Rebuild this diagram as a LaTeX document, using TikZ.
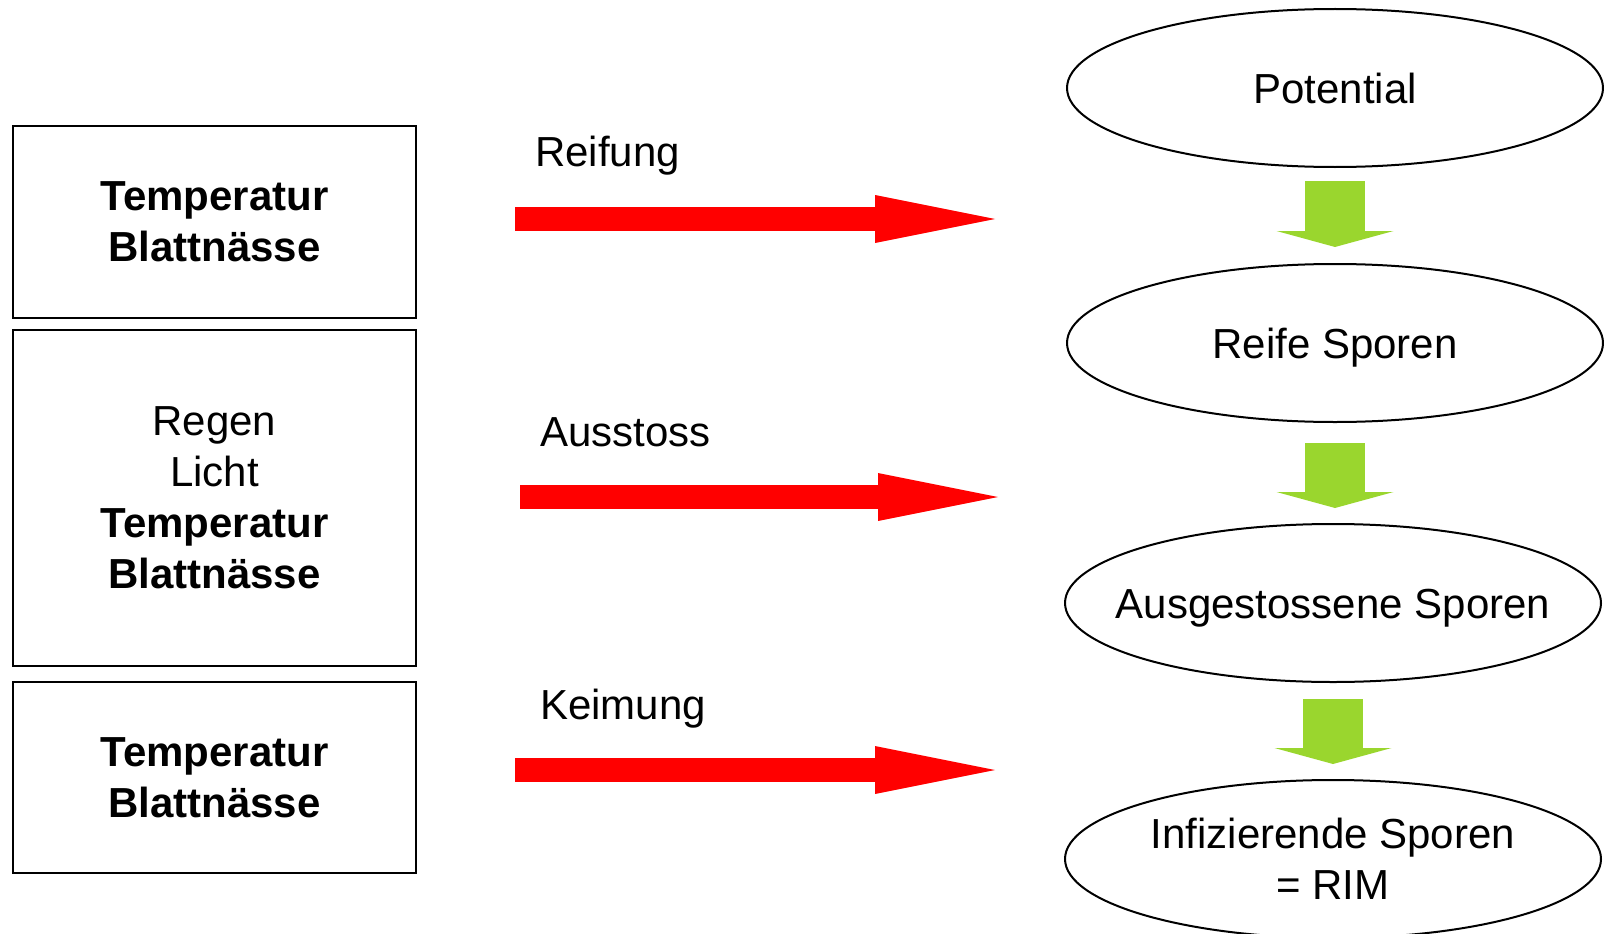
\documentclass[tikz,border=0pt]{standalone}
\usepackage{fontspec}
\setmainfont{Liberation Sans}
\usetikzlibrary{shapes.geometric,arrows.meta}
\definecolor{arrowgreen}{RGB}{154,214,46}
\newcommand{\zw}[1]{\makebox[0pt]{#1}}
\begin{document}
\begin{tikzpicture}[x=1pt,y=-1pt,
  every node/.style={font=\fontsize{42}{51}\selectfont, inner sep=0pt},
  box/.style={draw, line width=2.5pt, minimum width=403pt, align=center},
  oval/.style={draw, ellipse, line width=2pt, minimum width=536pt, minimum height=158pt, align=center},
  oneline/.style={text height=30pt, text depth=0pt},
  redarrow/.style={draw=red, line width=24pt, -{Triangle[length=120pt,width=48pt,line width=0pt]}},
  greenarrow/.style={draw=arrowgreen, line width=60pt, -{Triangle[length=16pt,width=117pt,line width=0pt]}},
  lbl/.style={anchor=west, oneline}]
\useasboundingbox (0,0) rectangle (1604,934);
% left boxes
\node[box, minimum height=192pt] (b1) at (214.5,222) {\textbf{Temperatur}\\\textbf{Blattnässe}};
\node[box, minimum height=336pt] (b2) at (214.5,498) {Regen\\Licht\\\textbf{Temperatur}\\\textbf{Blattnässe}};
\node[box, minimum height=191pt] (b3) at (214.5,777.5) {\textbf{Temperatur}\\\textbf{Blattnässe}};
% ellipses
\node[oval, oneline] (e1) at (1335,88) {\zw{Potential}};
\node[oval, oneline] (e2) at (1335,343) {\zw{Reife Sporen}};
\node[oval, oneline] (e3) at (1333,603) {\zw{Ausgestossene Sporen}};
\node[oval] (e4) at (1333,859) {\zw{Infizierende Sporen}\\\zw{= RIM}};
% red arrows
\coordinate (r1s) at (515,219); \coordinate (r1e) at (995,219);
\coordinate (r2s) at (520,497); \coordinate (r2e) at (998,497);
\coordinate (r3s) at (515,770); \coordinate (r3e) at (995,770);
\draw[redarrow] (r1s) -- (r1e);
\draw[redarrow] (r2s) -- (r2e);
\draw[redarrow] (r3s) -- (r3e);
\node[lbl] (l1) at (535,151) {Reifung};
\node[lbl] (l2) at (540,431) {Ausstoss};
\node[lbl] (l3) at (540,704) {Keimung};
% green arrows
\draw[greenarrow] ([yshift=-13pt]e1.south) -- ([yshift=16pt]e1.south |- e2.north);
\draw[greenarrow] ([yshift=-20pt]e2.south) -- ([yshift=15pt]e2.south |- e3.north);
\draw[greenarrow] ([yshift=-16pt]e3.south) -- ([yshift=15pt]e3.south |- e4.north);
\end{tikzpicture}
\end{document}
